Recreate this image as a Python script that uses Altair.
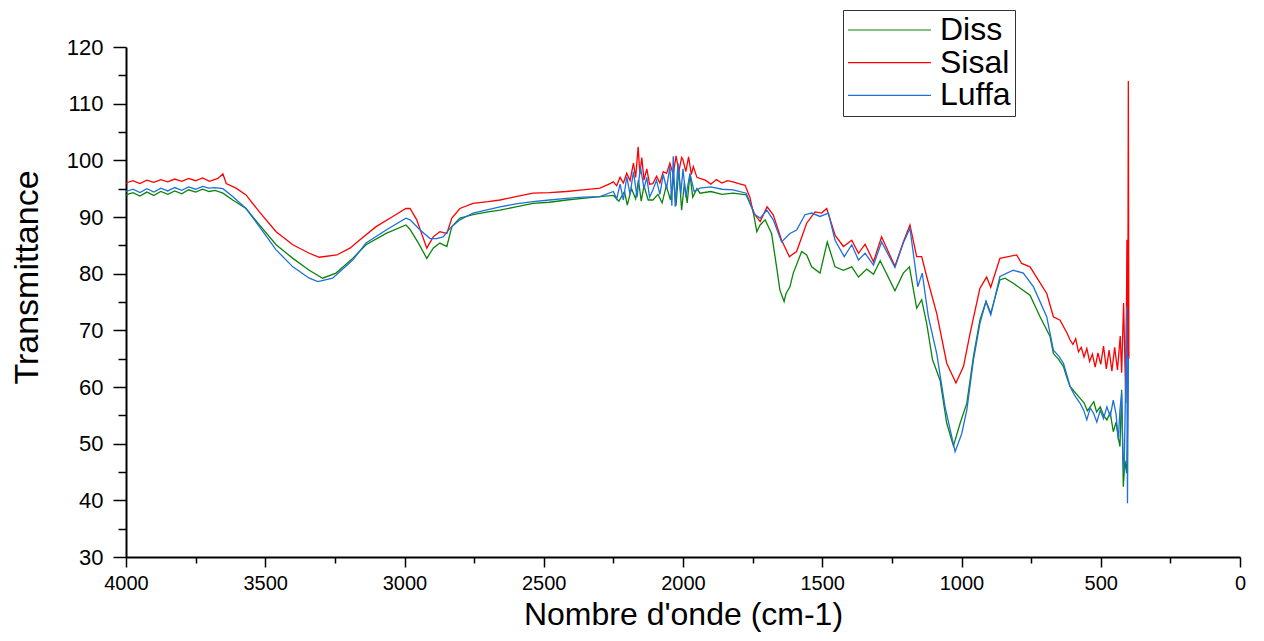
import altair as alt
import pandas as pd

# ---------------- data ----------------
series_names = ["Diss", "Sisal", "Luffa"]
series_colors = ["#0a840a", "#ff0000", "#1f6fdc"]

diss_x = [4000, 3975, 3950, 3925, 3900, 3875, 3850, 3825, 3800, 3775, 3750, 3725, 3702, 3680, 3652, 3617,
          3569, 3521, 3461, 3401, 3342, 3294, 3246, 3186, 3138, 3066, 2995, 2980, 2950, 2920, 2897, 2873,
          2848, 2830, 2801, 2754, 2700, 2657, 2600, 2539, 2480, 2418, 2360, 2298, 2250, 2230, 2210, 2200,
          2185, 2170, 2160, 2150, 2140, 2125, 2108, 2090, 2075, 2060, 2045, 2035, 2025, 2015, 2005, 1995,
          1985, 1975, 1965, 1950, 1939, 1900, 1860, 1820, 1773, 1749, 1735, 1723, 1705, 1682, 1664, 1652,
          1637, 1630, 1616, 1604, 1574, 1556, 1538, 1508, 1482, 1454, 1424, 1394, 1370, 1340, 1316, 1292,
          1239, 1209, 1187, 1161, 1143, 1125, 1104, 1077, 1053, 1029, 1005, 981, 957, 934, 912, 895,
          862, 844, 814, 754, 718, 682, 670, 650, 634, 620, 610, 595, 574, 560, 548, 538, 525, 515,
          502, 490, 478, 466, 455, 445, 437, 431, 425, 419, 413, 407, 404, 401]
diss_y = [93.9, 94.3, 93.7, 94.4, 93.8, 94.5, 94.0, 94.6, 94.1, 94.8, 94.4, 94.9, 94.5, 94.7, 94.2, 93.0,
          91.5, 88.6, 85.1, 82.7, 80.6, 79.2, 80.1, 82.7, 85.1, 87.1, 88.6, 87.8, 85.4, 82.7, 84.5, 85.4,
          84.8, 88.3, 89.8, 90.4, 90.9, 91.2, 91.8, 92.4, 92.6, 93.0, 93.3, 93.6, 93.8, 92.8, 94.5, 92.1,
          95.0, 93.2, 96.5, 92.8, 95.5, 93.0, 93.0, 94.0, 92.5, 95.5, 93.0, 97.0, 92.0, 98.5, 91.2, 96.0,
          92.5, 97.5, 93.5, 95.0, 94.2, 94.5, 94.0, 94.2, 93.9, 91.2, 87.4, 88.6, 89.5, 87.1, 81.2, 77.1,
          75.1, 76.5, 77.7, 80.1, 83.9, 83.3, 81.2, 80.1, 85.6, 81.2, 80.6, 81.2, 79.4, 80.8, 79.9, 82.3,
          77.0, 80.1, 81.2, 73.9, 75.4, 71.2, 64.8, 61.2, 53.6, 49.6, 53.6, 57.1, 65.4, 71.8, 75.1, 73.0,
          78.9, 79.2, 78.3, 76.2, 72.4, 68.9, 65.9, 64.8, 63.6, 61.4, 60.1, 59.2, 58.0, 57.2, 55.8, 56.5,
          57.4, 55.6, 56.5, 55.0, 54.2, 55.5, 52.1, 53.8, 51.0, 49.5, 59.5, 42.4, 47.0, 44.8, 52.0, 65.4]

sisal_x = [4000, 3975, 3950, 3925, 3900, 3875, 3850, 3825, 3800, 3775, 3750, 3725, 3700, 3670, 3652, 3640,
           3605, 3569, 3521, 3461, 3401, 3342, 3306, 3243, 3196, 3162, 3102, 3042, 2995, 2980, 2956, 2920,
           2897, 2873, 2848, 2830, 2801, 2754, 2700, 2657, 2600, 2539, 2480, 2418, 2360, 2298, 2262, 2250,
           2238, 2226, 2214, 2202, 2190, 2178, 2170, 2161, 2155, 2148, 2140, 2130, 2120, 2108, 2095, 2083,
           2071, 2059, 2047, 2035, 2025, 2015, 2005, 2000, 1990, 1980, 1970, 1963, 1950, 1939, 1920, 1900,
           1880, 1860, 1840, 1820, 1800, 1777, 1760, 1747, 1723, 1698, 1676, 1646, 1618, 1592, 1556, 1526,
           1502, 1484, 1454, 1424, 1394, 1370, 1346, 1316, 1287, 1239, 1209, 1185, 1161, 1143, 1125, 1089,
           1053, 1020, 993, 969, 934, 910, 895, 862, 802, 784, 754, 694, 670, 646, 620, 610, 600, 590,
           580, 570, 560, 550, 540, 530, 520, 510, 500, 490, 480, 470, 460, 450, 440, 430, 425, 418,
           410, 406, 403, 401, 399]
sisal_y = [96.0, 96.4, 95.9, 96.5, 96.1, 96.6, 96.2, 96.7, 96.3, 96.8, 96.4, 96.9, 96.3, 96.8, 97.6, 95.9,
           95.1, 93.9, 90.9, 87.4, 85.1, 83.6, 82.9, 83.3, 84.5, 85.9, 88.3, 90.1, 91.5, 91.5, 89.5, 84.5,
           86.5, 87.4, 87.1, 89.8, 91.5, 92.4, 92.7, 93.0, 93.6, 94.2, 94.3, 94.5, 94.8, 95.1, 95.9, 96.2,
           95.5, 97.0, 96.0, 97.7, 96.4, 99.5, 97.0, 102.4, 97.5, 100.5, 96.5, 98.5, 95.8, 95.9, 97.2, 96.0,
           98.0, 97.7, 99.5, 97.5, 100.8, 98.0, 100.5, 100.1, 98.0, 100.6, 97.5, 98.9, 97.0, 96.8, 96.5, 95.8,
           96.6, 96.0, 96.4, 96.2, 95.9, 95.6, 93.5, 90.7, 89.2, 91.8, 90.4, 85.9, 83.0, 83.9, 88.9, 90.9,
           90.7, 91.5, 86.8, 84.8, 85.9, 83.6, 85.2, 82.1, 86.5, 81.3, 85.6, 88.6, 83.0, 83.0, 79.5, 73.0,
           64.2, 60.7, 63.6, 69.5, 77.4, 79.4, 77.6, 82.7, 83.3, 81.8, 81.2, 76.5, 72.4, 71.8, 69.4, 68.3,
           67.5, 68.5, 66.2, 67.0, 65.3, 66.8, 64.5, 65.8, 63.5, 66.0, 64.0, 67.2, 63.2, 66.5, 62.8, 67.0,
           63.0, 69.0, 62.5, 74.8, 57.2, 86.0, 65.0, 114.0, 65.0]

luffa_x = [4000, 3975, 3950, 3925, 3900, 3875, 3850, 3825, 3800, 3775, 3750, 3725, 3702, 3680, 3652, 3617,
           3569, 3521, 3461, 3401, 3342, 3311, 3258, 3186, 3138, 3066, 2995, 2980, 2944, 2908, 2885, 2861,
           2837, 2801, 2754, 2700, 2657, 2600, 2539, 2480, 2418, 2360, 2298, 2250, 2238, 2226, 2214, 2202,
           2190, 2178, 2165, 2153, 2140, 2130, 2120, 2108, 2095, 2083, 2071, 2059, 2047, 2040, 2035, 2028,
           2018, 2008, 2000, 1990, 1975, 1960, 1939, 1900, 1860, 1820, 1773, 1749, 1741, 1723, 1699, 1676,
           1646, 1616, 1592, 1562, 1538, 1508, 1478, 1454, 1421, 1394, 1370, 1346, 1316, 1287, 1239, 1209,
           1185, 1157, 1141, 1119, 1089, 1059, 1023, 999, 981, 957, 934, 912, 895, 862, 814, 778,
           742, 694, 670, 650, 634, 620, 610, 595, 574, 562, 550, 538, 526, 514, 502, 490, 478, 466,
           455, 445, 437, 431, 425, 420, 416, 411, 407, 404, 401]
luffa_y = [94.5, 94.9, 94.3, 95.0, 94.4, 95.1, 94.6, 95.2, 94.7, 95.3, 94.9, 95.4, 95.1, 95.2, 95.0, 93.6,
           91.5, 88.3, 84.2, 81.2, 79.2, 78.6, 79.2, 82.4, 85.4, 87.7, 89.8, 89.5, 87.7, 86.2, 86.2, 86.5,
           88.0, 89.5, 90.7, 91.3, 91.8, 92.3, 92.7, 93.0, 93.3, 93.5, 93.6, 94.5, 93.2, 95.8, 93.0, 97.1,
           94.0, 98.0, 93.5, 98.9, 95.0, 97.0, 93.5, 94.8, 96.5, 94.0, 97.5, 95.0, 99.0, 92.0, 100.7, 91.8,
           99.5, 94.0, 98.5, 93.5, 97.7, 94.5, 95.1, 95.3, 94.9, 94.8, 94.2, 91.2, 90.4, 89.8, 91.2, 89.5,
           85.6, 87.1, 87.7, 90.4, 90.7, 90.1, 90.7, 85.9, 83.0, 85.1, 82.4, 83.6, 81.5, 85.6, 81.1, 85.4,
           88.0, 77.7, 80.1, 72.4, 65.9, 56.5, 48.6, 51.8, 55.9, 64.8, 71.2, 75.1, 72.7, 79.5, 80.6, 80.1,
           77.7, 72.4, 66.5, 65.4, 64.2, 61.8, 60.1, 58.6, 57.1, 56.0, 54.2, 56.3, 55.4, 53.8, 55.9, 54.4,
           56.5, 54.8, 57.7, 55.2, 50.7, 56.0, 58.9, 47.5, 44.8, 60.0, 74.2, 39.5, 65.4]

# ---------------- chart ----------------
def series_frame(name, xs, ys):
    return pd.DataFrame({"wavenumber": xs, "transmittance": ys, "series": name})

x_ticks = list(range(0, 4001, 250))
y_ticks = list(range(30, 121, 5))

x_enc = alt.X(
    "wavenumber:Q",
    scale=alt.Scale(domain=[0, 4000], reverse=True, nice=False, zero=False),
    axis=alt.Axis(
        values=x_ticks,
        format="d",
        labelExpr="datum.value % 500 === 0 ? datum.label : ''",
        tickSize={"condition": {"test": "datum.value % 500 === 0", "value": 10}, "value": 6},
        title="Nombre d'onde (cm-1)",
        titleFontSize=32,
        titleY=67,
        titleBaseline="alphabetic",
        labelFontSize=20,
        labelPadding=6,
        labelFlush=False,
    ),
)
y_enc = alt.Y(
    "transmittance:Q",
    scale=alt.Scale(domain=[30, 120], nice=False, zero=False),
    axis=alt.Axis(
        values=y_ticks,
        format="d",
        labelExpr="datum.value % 10 === 0 ? datum.label : ''",
        tickSize={"condition": {"test": "datum.value % 10 === 0", "value": 13}, "value": 8},
        title="Transmittance",
        titleFontSize=34,
        titleAngle=-90,
        titleX=-99,
        titleY=230,
        titleAlign="center",
        titleBaseline="middle",
        labelFontSize=22,
        labelPadding=10,
        labelFlush=False,
    ),
)

color_enc = alt.Color(
    "series:N",
    scale=alt.Scale(domain=series_names, range=series_colors),
    legend=alt.Legend(
        title=None,
        orient="none",
        legendX=717,
        legendY=-37,
        symbolType="M-1,0H4.53",
        symbolSize=900,
        symbolStrokeWidth=1.2,
        labelFontSize=32,
        labelFont="Liberation Sans",
        labelOffset=61,
        padding=4,
        rowPadding=0.7,
        strokeColor="#333333",
        fillColor="white",
    ),
)

layers = []
for name, xs, ys in [("Diss", diss_x, diss_y), ("Sisal", sisal_x, sisal_y), ("Luffa", luffa_x, luffa_y)]:
    layers.append(
        alt.Chart(series_frame(name, xs, ys))
        .mark_line(strokeWidth=1.3)
        .encode(x=x_enc, y=y_enc, color=color_enc)
    )

chart = (
    alt.layer(*layers)
    .properties(
        width=1114,
        height=510,
        padding={"left": 118, "top": 39, "right": 16, "bottom": 75},
        autosize=alt.AutoSizeParams(type="none"),
    )
    .configure_view(stroke=None)
    .configure_axis(
        labelFont="Liberation Sans",
        titleFont="Liberation Sans",
        titleFontWeight="normal",
        labelColor="black",
        titleColor="black",
        domainColor="black",
        tickColor="black",
        domainWidth=2,
        tickWidth=1.5,
        grid=False,
    )
)

chart.save("out.html", embed_options={"renderer": "svg", "actions": False})
